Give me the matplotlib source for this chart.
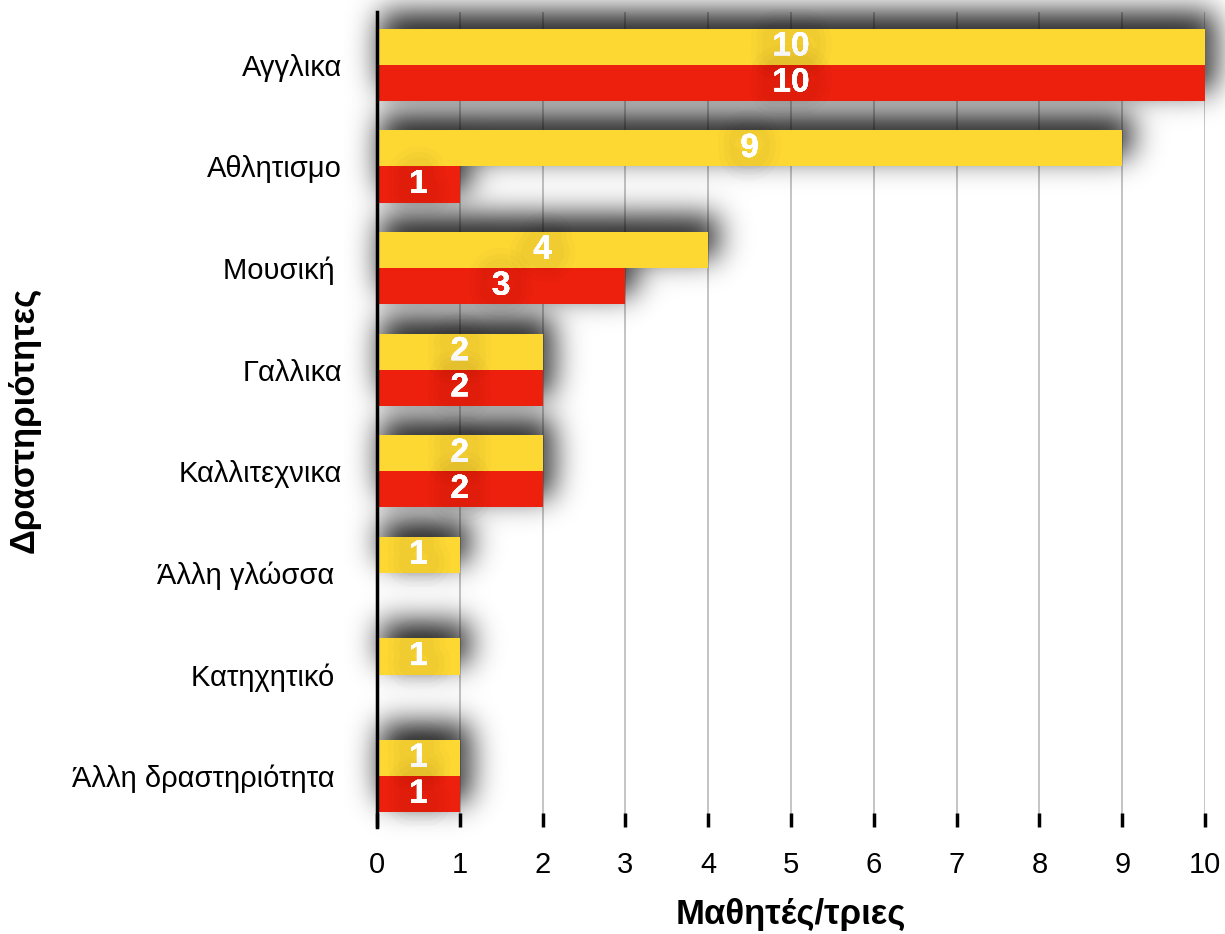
import math
import matplotlib
matplotlib.use('Agg')
import matplotlib.pyplot as plt
import matplotlib.patheffects as pe
import numpy as np

# data
categories = ['Αγγλικα', 'Αθλητισμο', 'Μουσική ', 'Γαλλικα', 'Καλλιτεχνικα',
              'Άλλη γλώσσα ', 'Κατηχητικό ', 'Άλλη δραστηριότητα ']
yellow_vals = [10, 9, 4, 2, 2, 1, 1, 1]
red_vals = [10, 1, 3, 2, 2, 0, 0, 1]
xticks = list(range(0, 11))

YELLOW = '#fdd833'
RED = '#ec200d'

plt.rcParams['font.family'] = ['Liberation Sans', 'DejaVu Sans']

fig = plt.figure(figsize=(12.25, 9.34), dpi=100, facecolor='white')
ax = fig.add_axes([377/1225, 1 - 827/934, (1205 - 377)/1225, (827 - 12)/934])

bar_h = 0.355
pos = np.arange(len(categories))
y_pos = pos - bar_h/2
r_pos = pos + bar_h/2

# gridlines
ax.set_axisbelow(True)
ax.grid(axis='x', color='#c4c4c4', linewidth=1.4)
ax.grid(axis='y', visible=False)

xlim = (0, 10)
ylim = (7.5, -0.52)

# soft drop shadow behind bars, computed from the same bar rectangles
px_x = 82.8   # pixels per data unit (x)
px_y = 101.9  # pixels per data unit (y)
sig = 15.0
spread = 3.0
off_x, off_y = 6.0 / px_x, -13.0 / px_y
sx, sy = sig / px_x, sig / px_y
spx, spy = spread / px_x, spread / px_y
gx = np.linspace(-0.4, 10.4, 900)
gy = np.linspace(-0.66, 7.65, 850)
erf = np.vectorize(math.erf)

def edge(g, a, b, s):
    return 0.5 * (erf((g - a) / (s * math.sqrt(2))) - erf((g - b) / (s * math.sqrt(2))))

keep = np.ones((len(gy), len(gx)))
rects = []
for i in range(len(categories)):
    if yellow_vals[i] > 0:
        rects.append((0, yellow_vals[i], y_pos[i] - bar_h/2, y_pos[i] + bar_h/2))
    if red_vals[i] > 0:
        rects.append((0, red_vals[i], r_pos[i] - bar_h/2, r_pos[i] + bar_h/2))
for x0, x1, y0, y1 in rects:
    fx = edge(gx, x0 + off_x - spx, x1 + off_x + spx, sx)
    fy = edge(gy, y0 + off_y - spy, y1 + off_y + spy, sy)
    keep *= 1 - np.outer(fy, fx)
alpha = (1 - keep) * 0.9
shadow = np.zeros((len(gy), len(gx), 4))
shadow[..., 3] = alpha
ax.imshow(shadow, extent=(gx[0], gx[-1], gy[0], gy[-1]), origin='lower',
          aspect='auto', zorder=1, clip_on=False, interpolation='bilinear')

# bars
ax.barh(y_pos, yellow_vals, height=bar_h, color=YELLOW, zorder=2)
ax.barh(r_pos, red_vals, height=bar_h, color=RED, zorder=2)

glow = [pe.withStroke(linewidth=w, foreground=(0, 0, 0, 0.015)) for w in (34, 26, 18)]
glow.append(pe.Normal())
for i in range(len(categories)):
    if yellow_vals[i] > 0:
        ax.text(yellow_vals[i] / 2, y_pos[i], str(yellow_vals[i]), ha='center', va='center',
                color='white', fontsize=24, fontweight='bold', zorder=3, path_effects=glow)
    if red_vals[i] > 0:
        ax.text(red_vals[i] / 2, r_pos[i], str(red_vals[i]), ha='center', va='center',
                color='white', fontsize=24, fontweight='bold', zorder=3, path_effects=glow)

ax.set_xlim(*xlim)
ax.set_ylim(*ylim)
ax.set_xticks(xticks)
ax.set_yticks(pos)
ax.set_yticklabels(categories)

for s in ('top', 'right', 'bottom'):
    ax.spines[s].set_visible(False)
ax.spines['left'].set_linewidth(2.5)
ax.spines['left'].set_color('black')
ax.spines['left'].set_zorder(4)

ax.tick_params(axis='x', direction='in', length=10, width=2.5, labelsize=21, pad=17, colors='black')
ax.tick_params(axis='y', length=0, labelsize=21, pad=25)

ax.set_xlabel('Μαθητές/τριες', fontsize=25, fontweight='bold', labelpad=14)
ax.set_ylabel('Δραστηριότητες', fontsize=25, fontweight='bold', labelpad=22)

fig.savefig('out.png', dpi=100, facecolor='white')
